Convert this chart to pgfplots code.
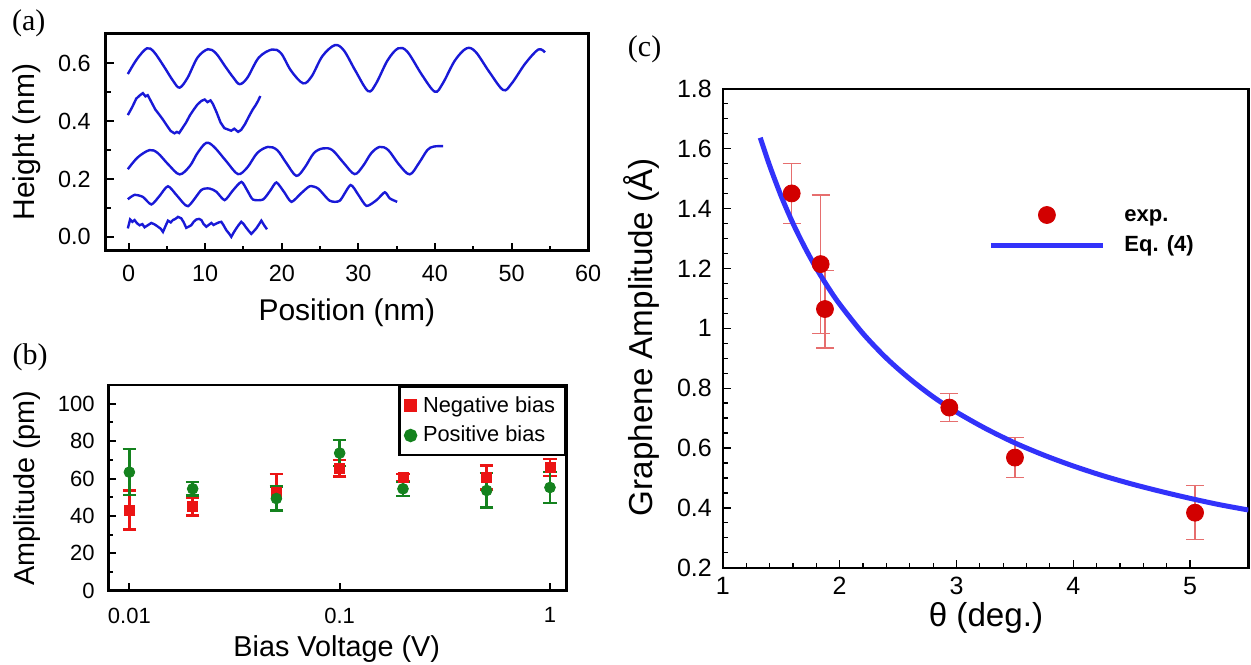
\documentclass[border=0pt]{standalone}
\usepackage{fontspec}
\setmainfont{Liberation Sans}
\newfontfamily\timesf{Liberation Serif}
\usepackage{pgfplots}
\pgfplotsset{compat=1.18}
\definecolor{traceblue}{RGB}{25,25,215}
\definecolor{negred}{RGB}{235,20,20}
\definecolor{posgreen}{RGB}{20,130,30}
\definecolor{ptred}{RGB}{210,0,0}
\definecolor{errred}{RGB}{230,110,110}
\definecolor{curveblue}{RGB}{50,50,250}
\begin{document}
\begin{tikzpicture}
\useasboundingbox (0,0) rectangle (625.5pt,-332pt);
\node[font=\timesf\fontsize{15}{16}\selectfont] at (14.4pt,-11.5pt) {(a)};
\node[font=\timesf\fontsize{15}{16}\selectfont] at (15pt,-178.5pt) {(b)};
\node[font=\timesf\fontsize{15}{16}\selectfont] at (322.3pt,-24.5pt) {(c)};

% ---------------- panel (a) ----------------
\begin{axis}[
  at={(52.8pt,-125.35pt)}, anchor=south west,
  scale only axis, width=241.3pt, height=108.7pt,
  xmin=-3, xmax=60, ymin=-0.048, ymax=0.704,
  xtick={0,10,20,30,40,50,60}, ytick={0,0.2,0.4,0.6},
  yticklabels={0.0,0.2,0.4,0.6},
  minor x tick num=1, minor y tick num=1,
  tick align=inside, tick pos=left,
  major tick length=4pt, minor tick length=2.5pt,
  every tick/.style={black, line width=1pt},
  axis line style={line width=1.3pt},
  /pgf/number format/assume math mode=true,
  tick label style={font=\fontsize{11.7}{12}\selectfont},
  xlabel={Position (nm)}, ylabel={Height (nm)},
  label style={font=\fontsize{15}{16}\selectfont},
  xlabel style={at={(axis description cs:0.5,-0.287)}, anchor=center},
  ylabel style={at={(axis description cs:-0.163,0.5)}, anchor=center},
  xticklabel style={yshift=-3.5pt}, yticklabel style={xshift=-4pt},
]
\addplot[traceblue, line width=1.2pt, smooth, tension=0.55] coordinates {
(-0.1,0.563) (1.1,0.615) (2.39,0.652) (3.3,0.64) (4.6,0.59) (5.8,0.54) (6.66,0.516) (7.7,0.55) (9.0,0.62) (10.36,0.649) (11.4,0.635) (12.6,0.59) (13.7,0.55) (14.5,0.528) (15.5,0.55) (17.0,0.62) (18.73,0.648) (19.9,0.635) (21.2,0.575) (22.78,0.531) (23.9,0.555) (25.3,0.625) (26.92,0.663) (28.1,0.645) (29.6,0.575) (31.27,0.504) (32.3,0.53) (33.8,0.61) (35.19,0.652) (36.4,0.64) (38.3,0.56) (39.98,0.502) (41.0,0.53) (42.6,0.61) (44.12,0.652) (45.3,0.64) (47.1,0.57) (48.9,0.508) (50.0,0.53) (51.8,0.6) (53.49,0.648) (54.36,0.638)};
\addplot[traceblue, line width=1.2pt] coordinates {
(-0.1,0.421) (0.5,0.45) (1.0,0.478) (1.5,0.49) (1.87,0.497) (2.2,0.486) (2.5,0.49) (3.0,0.465) (3.5,0.44) (4.0,0.423) (4.5,0.405) (5.0,0.385) (5.5,0.366) (6.0,0.358) (6.3,0.363) (6.6,0.359) (7.0,0.375) (7.5,0.395) (8.0,0.42) (8.5,0.44) (9.0,0.458) (9.5,0.47) (9.93,0.475) (10.3,0.466) (10.7,0.472) (11.0,0.46) (11.5,0.43) (12.0,0.396) (12.5,0.376) (13.0,0.371) (13.4,0.367) (13.8,0.374) (14.3,0.363) (14.7,0.37) (15.2,0.39) (15.7,0.416) (16.2,0.44) (16.6,0.456) (16.9,0.47) (17.2,0.487)};
\addplot[traceblue, line width=1.2pt, smooth, tension=0.55] coordinates {
(-0.1,0.234) (1.2,0.275) (2.74,0.3) (3.8,0.29) (5.2,0.25) (6.66,0.216) (8.0,0.245) (9.0,0.29) (10.15,0.325) (11.2,0.31) (12.8,0.26) (14.28,0.217) (15.5,0.24) (16.8,0.29) (18.2,0.311) (19.4,0.3) (20.6,0.255) (21.9,0.211) (23.0,0.24) (24.2,0.29) (25.4,0.306) (26.6,0.3) (28.1,0.255) (29.5,0.217) (30.6,0.245) (31.7,0.29) (32.8,0.311) (33.9,0.3) (35.3,0.25) (36.7,0.216) (37.9,0.255) (39.0,0.3) (39.8,0.312) (41.07,0.314)};
\addplot[traceblue, line width=1.2pt, smooth, tension=0.4] coordinates {
(-0.1,0.130) (0.78,0.145) (1.87,0.138) (2.97,0.112) (4.0,0.14) (5.14,0.175) (6.4,0.14) (7.75,0.106) (9.5,0.162) (10.58,0.167) (11.46,0.156) (12.54,0.127) (13.6,0.16) (14.73,0.19) (15.5,0.16) (16.24,0.129) (17.55,0.129) (18.5,0.16) (19.3,0.188) (20.3,0.155) (21.26,0.121) (22.5,0.15) (23.65,0.175) (24.74,0.167) (26.26,0.125) (27.57,0.125) (28.97,0.179) (30.0,0.145) (31.06,0.107) (32.37,0.127) (33.45,0.154) (34.1,0.133) (35.06,0.121)};
\addplot[traceblue, line width=1.2pt] coordinates {
(-0.1,0.029) (0.2,0.06) (0.5,0.052) (0.78,0.058) (1.1,0.047) (1.44,0.040) (1.8,0.044) (2.09,0.033) (2.5,0.04) (2.97,0.048) (3.4,0.043) (3.84,0.035) (4.2,0.028) (4.49,0.017) (4.8,0.036) (5.14,0.056) (5.5,0.05) (5.79,0.058) (6.1,0.062) (6.45,0.069) (6.88,0.064) (7.2,0.05) (7.53,0.031) (7.9,0.036) (8.18,0.040) (8.5,0.052) (8.84,0.060) (9.2,0.062) (9.5,0.058) (9.8,0.044) (10.15,0.035) (10.5,0.042) (10.8,0.048) (11.1,0.041) (11.46,0.046) (11.8,0.05) (12.1,0.052) (12.4,0.04) (12.76,0.023) (13.1,0.012) (13.41,0.0) (13.7,0.014) (14.06,0.029) (14.4,0.042) (14.71,0.052) (15.0,0.045) (15.37,0.031) (15.7,0.02) (16.02,0.010) (16.3,0.018) (16.67,0.029) (17.0,0.042) (17.33,0.056) (17.7,0.04) (18.07,0.026)};
\end{axis}

% ---------------- panel (b) ----------------
\begin{axis}[
  at={(54.15pt,-295.35pt)}, anchor=south west,
  scale only axis, width=229.05pt, height=102.85pt,
  xmode=log, xmin=0.00794, xmax=1.197, ymin=0, ymax=110,
  xtick={0.01,0.1,1}, xticklabels={0.01,0.1,1},
  ytick={0,20,40,60,80,100}, minor y tick num=1,
  xminorticks=false,
  tick align=inside, tick pos=left,
  major tick length=4pt, minor tick length=2.5pt,
  every tick/.style={black, line width=1pt},
  axis line style={line width=1.3pt},
  /pgf/number format/assume math mode=true,
  tick label style={font=\fontsize{11}{12}\selectfont},
  xlabel={Bias Voltage (V)}, ylabel={Amplitude (pm)},
  label style={font=\fontsize{14.4}{15}\selectfont},
  xlabel style={at={(axis description cs:0.4986,-0.285)}, anchor=center},
  ylabel style={at={(axis description cs:-0.1775,0.499)}, anchor=center},
  xticklabel style={yshift=-5pt}, yticklabel style={xshift=-3.3pt},
  legend style={at={(1,1)}, anchor=north east, draw=black, line width=1.3pt,
    font=\fontsize{10.9}{12}\selectfont, inner xsep=3pt, inner ysep=3pt,
    row sep=1.5pt, column sep=1.5pt},
  legend cell align=left,
]
\addplot[only marks, mark=square*, mark size=2.5pt, color=negred,
  mark options={fill=negred, draw=negred},
  error bars/.cd, y dir=both, y explicit,
  error bar style={line width=1.2pt, negred},
  error mark options={rotate=90, mark size=3.4pt, line width=1.2pt, negred}]
  table[x=x, y=y, y error=e] {
x y e
0.01 43.2 10.4
0.02 45.0 4.7
0.05 52.5 9.9
0.1 65.5 4.5
0.2 60.5 2.0
0.5 60.5 6.4
1 65.9 4.6
};
\addlegendentry{Negative bias}
\addplot[only marks, mark=*, mark size=2.7pt, color=posgreen,
  mark options={fill=posgreen, draw=posgreen},
  error bars/.cd, y dir=both, y explicit,
  error bar style={line width=1.2pt, posgreen},
  error mark options={rotate=90, mark size=3.4pt, line width=1.2pt, posgreen}]
  table[x=x, y=y, y error=e] {
x y e
0.01 63.4 12.3
0.02 54.5 3.5
0.05 49.3 6.5
0.1 73.6 7.0
0.2 54.5 3.7
0.5 53.6 9.2
1 55.2 8.2
};
\addlegendentry{Positive bias}
\end{axis}

% ---------------- panel (c) ----------------
\begin{axis}[
  at={(361.45pt,-283.9pt)}, anchor=south west,
  scale only axis, width=262.75pt, height=239.6pt,
  xmin=1, xmax=5.5, ymin=0.2, ymax=1.8,
  xtick={1,2,3,4,5},
  ytick={0.2,0.4,0.6,0.8,1,1.2,1.4,1.6,1.8},
  yticklabels={0.2,0.4,0.6,0.8,1,1.2,1.4,1.6,1.8},
  minor x tick num=4, minor y tick num=3,
  tick align=inside, tick pos=left,
  major tick length=4pt, minor tick length=2.5pt,
  every tick/.style={black, line width=0.6pt},
  axis line style={line width=1.1pt},
  /pgf/number format/assume math mode=true,
  tick label style={font=\fontsize{12.5}{13}\selectfont},
  xlabel={θ (deg.)}, ylabel={Graphene Amplitude (Å)},
  label style={font=\fontsize{16.6}{18}\selectfont},
  xlabel style={at={(axis description cs:0.5007,-0.105)}, anchor=center},
  ylabel style={at={(axis description cs:-0.155,0.4816)}, anchor=center},
  xticklabel style={yshift=-1pt}, yticklabel style={xshift=-2pt},
  legend style={draw=none, fill=none, inner sep=0pt,
    at={(axis description cs:0.5045,0.7044)}, anchor=west,
    font=\bfseries\fontsize{11}{12}\selectfont,
    nodes={inner sep=0pt, text height=8pt, text depth=2pt},
    row sep=5.25pt, column sep=9.5pt},
  legend cell align=left,
]
\addplot[only marks, mark=*, mark size=4.25pt, color=ptred,
  mark options={fill=ptred, draw=ptred},
  legend image code/.code={\path[draw=none] (0pt,0pt) -- (56pt,0pt); \fill[ptred] (28pt,0pt) circle (4.25pt);},
  error bars/.cd, y dir=both, y explicit,
  error bar style={line width=0.6pt, errred},
  error mark options={rotate=90, mark size=4.5pt, line width=0.6pt, errred}]
  table[x=x, y=y, y error=e] {
x y e
1.589 1.450 0.100
1.837 1.214 0.231
1.874 1.064 0.130
2.939 0.735 0.046
3.501 0.568 0.066
5.043 0.384 0.090
};
\addlegendentry{exp.}
\addplot[curveblue, line width=2.5pt, smooth,
  legend image code/.code={\draw[curveblue, line width=2.5pt] (0pt,0pt) -- (56pt,0pt);}]
  coordinates {
(1.32,1.636) (1.4,1.543) (1.5,1.44) (1.6,1.35) (1.7,1.271) (1.8,1.2) (1.9,1.137) (2.0,1.08) (2.2,0.982) (2.4,0.9) (2.6,0.831) (2.8,0.771) (3.0,0.72) (3.25,0.665) (3.5,0.617) (3.75,0.576) (4.0,0.54) (4.25,0.508) (4.5,0.48) (4.75,0.455) (5.0,0.432) (5.25,0.411) (5.5,0.393)};
\addlegendentry{Eq. (4)}
\end{axis}
\end{tikzpicture}
\end{document}
